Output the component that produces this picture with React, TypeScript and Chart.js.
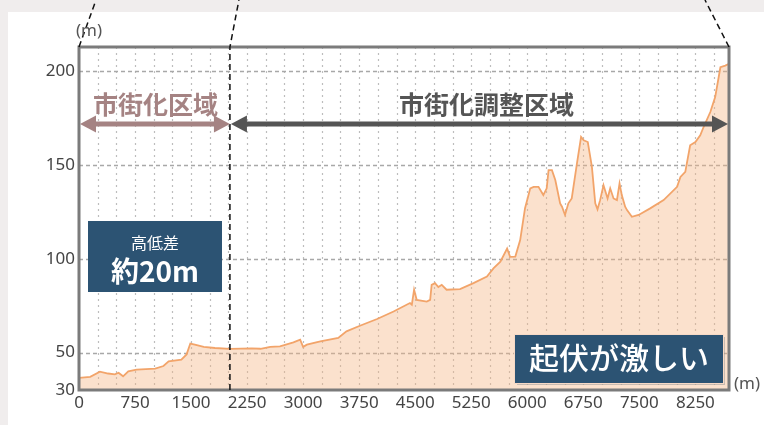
import React, { useEffect, useRef } from "react";
import { Chart, registerables } from "chart.js";

Chart.register(...registerables);

// distance along route (m)
const distance = [
  0, 150, 280, 390, 480, 530, 590, 660, 770, 1020, 1130, 1200, 1370, 1440, 1490, 1550, 1670, 1820,
  2020, 2310, 2430, 2560, 2690, 2870, 2960, 3000, 3050, 3230, 3470, 3580, 3760, 3990, 4210, 4430,
  4455, 4485, 4520, 4655, 4700, 4720, 4765, 4810, 4855, 4920, 5100, 5280, 5460, 5550, 5640, 5730,
  5770, 5840, 5905, 5970, 6040, 6085, 6150, 6215, 6260, 6285, 6330, 6375, 6440, 6465, 6505, 6550,
  6595, 6665, 6720, 6755, 6810, 6865, 6910, 6940, 6975, 7020, 7075, 7110, 7155, 7200, 7235, 7265,
  7310, 7335, 7400, 7490, 7645, 7825, 8005, 8050, 8115, 8180, 8250, 8315, 8360, 8450, 8515, 8585,
  8650, 8700,
];
// elevation (m)
const elevation = [
  36.5, 37, 39.8, 38.8, 38.3, 39.2, 37.3, 40, 40.9, 41.4, 42.8, 45.3, 46.2, 49, 54.8, 54.2, 53, 52.4,
  51.9, 52.2, 52, 53, 53.3, 55.4, 56.9, 53, 54.2, 56, 57.8, 61.3, 64.3, 67.9, 71.9, 76.4,
  75.5, 83.5, 78.1, 77.2, 78.1, 86.1, 87, 84.9, 86.1, 83.5, 83.8, 87, 90.5, 95, 98.5, 105.5,
  101, 101.2, 110, 127, 137.6, 138.4, 138.4, 134, 137.6, 147.3, 147.3, 142, 129.6, 127.8, 123.4, 129.6,
  132.2, 150.9, 165, 163.2, 162.3, 149, 129.6, 126.4, 131.3, 139.3, 132.2, 137.6, 132.2, 131.3, 140.2, 134,
  127.8, 126, 122.4, 123.4, 126.9, 131.3, 138.4, 143.7, 146.4, 160.6, 162.3, 165.9, 170.3, 178.3, 186.3, 202.2,
  203.1, 204,
];

const xMin = 0;
const xMax = 8700;
const xGridStep = 250;
const xLabelStep = 750;
const yMin = 30;
const yMax = 213;
const yTickValues = [30, 50, 100, 150, 200];
const zoneBoundary = 2020;

const zoneLeftLabel = "市街化区域";
const zoneRightLabel = "市街化調整区域";
const box1Title = "高低差";
const box1Value = "約20m";
const box2Text = "起伏が激しい";
const unitLabel = "(m)";

const JP = '"Noto Sans CJK JP", "Noto Sans", sans-serif';
const NUM = '"Noto Sans", "Open Sans", sans-serif';

function drawArrow(ctx: CanvasRenderingContext2D, x1: number, x2: number, y: number, color: string) {
  const hl = 16;
  const hh = 8.5;
  ctx.save();
  ctx.strokeStyle = color;
  ctx.fillStyle = color;
  ctx.lineWidth = 5;
  ctx.beginPath();
  ctx.moveTo(x1 + hl - 2, y);
  ctx.lineTo(x2 - hl + 2, y);
  ctx.stroke();
  ctx.beginPath();
  ctx.moveTo(x1, y);
  ctx.lineTo(x1 + hl, y - hh);
  ctx.lineTo(x1 + hl, y + hh);
  ctx.closePath();
  ctx.fill();
  ctx.beginPath();
  ctx.moveTo(x2, y);
  ctx.lineTo(x2 - hl, y - hh);
  ctx.lineTo(x2 - hl, y + hh);
  ctx.closePath();
  ctx.fill();
  ctx.restore();
}

export default function App() {
  const ref = useRef<HTMLCanvasElement | null>(null);

  useEffect(() => {
    if (!ref.current) return;

    const bgPlugin = {
      id: "bg",
      beforeDraw(chart: any) {
        const ctx = chart.ctx;
        ctx.save();
        ctx.fillStyle = "#f0eded";
        ctx.fillRect(0, 0, chart.width, chart.height);
        ctx.fillStyle = "#ffffff";
        ctx.fillRect(8, 12, chart.width - 8, chart.height - 12);
        ctx.restore();
      },
    };

    const gridPlugin = {
      id: "grid",
      beforeDatasetsDraw(chart: any) {
        const { ctx, chartArea: a, scales } = chart;
        const xs = scales.x;
        const ys = scales.y;
        ctx.save();
        ctx.strokeStyle = "#bdbdbd";
        ctx.lineWidth = 1.2;
        ctx.setLineDash([2, 4]);
        for (let v = xMin + xGridStep; v < xMax; v += xGridStep) {
          const px = Math.round(xs.getPixelForValue(v)) + 0.5;
          ctx.beginPath();
          ctx.moveTo(px, a.top);
          ctx.lineTo(px, a.bottom);
          ctx.stroke();
        }
        ctx.strokeStyle = "#a8a8a8";
        ctx.lineWidth = 1.3;
        ctx.setLineDash([4, 3]);
        yTickValues.forEach((v) => {
          if (v === yMin) return;
          const py = Math.round(ys.getPixelForValue(v)) + 0.5;
          ctx.beginPath();
          ctx.moveTo(a.left, py);
          ctx.lineTo(a.right, py);
          ctx.stroke();
        });
        ctx.restore();
      },
    };

    const annoPlugin = {
      id: "anno",
      afterDraw(chart: any) {
        const { ctx, chartArea: a, scales } = chart;
        const bx = scales.x.getPixelForValue(zoneBoundary);
        ctx.save();
        // plot border
        ctx.strokeStyle = "#7b7b7b";
        ctx.lineWidth = 3;
        ctx.setLineDash([]);
        ctx.strokeRect(a.left, a.top, a.right - a.left, a.bottom - a.top);

        // dashed guide lines
        ctx.strokeStyle = "#111";
        ctx.lineWidth = 1.5;
        ctx.setLineDash([6, 4]);
        ctx.beginPath();
        ctx.moveTo(bx, a.bottom);
        ctx.lineTo(bx, a.top);
        ctx.lineTo(bx + 9, 0);
        ctx.stroke();
        ctx.beginPath();
        ctx.moveTo(a.left, a.top);
        ctx.lineTo(a.left + 17, 0);
        ctx.stroke();
        ctx.beginPath();
        ctx.moveTo(a.right, a.top);
        ctx.lineTo(a.right - 24, 0);
        ctx.stroke();
        ctx.setLineDash([]);

        // unit labels
        ctx.fillStyle = "#555";
        ctx.font = `17px ${NUM}`;
        ctx.textAlign = "center";
        ctx.textBaseline = "middle";
        ctx.fillText(unitLabel, a.left + 10, 31);
        ctx.fillText(unitLabel, a.right + 18, a.bottom - 6);

        // zone arrows
        const ay = 124;
        drawArrow(ctx, a.left + 1, bx, ay, "#a58383");
        drawArrow(ctx, bx + 1, a.right - 1, ay, "#555555");
        ctx.font = `bold 25px ${JP}`;
        ctx.textAlign = "center";
        ctx.textBaseline = "middle";
        ctx.fillStyle = "#a58383";
        ctx.fillText(zoneLeftLabel, (a.left + bx) / 2 + 1, 104);
        ctx.fillStyle = "#555555";
        ctx.fillText(zoneRightLabel, (bx + a.right) / 2 + 7, 104);

        // box 1
        ctx.fillStyle = "#2c5373";
        ctx.fillRect(88, 221, 134, 71);
        ctx.fillStyle = "#ffffff";
        ctx.font = `16px ${JP}`;
        ctx.fillText(box1Title, 155, 243);
        ctx.font = `bold 28px ${JP}`;
        ctx.fillText(box1Value, 155, 271);

        // box 2
        ctx.fillStyle = "rgba(150,150,150,0.5)";
        ctx.fillRect(517, 337, 208, 48);
        ctx.fillStyle = "#f6d9c6";
        ctx.fillRect(514, 334, 210, 50);
        ctx.fillStyle = "#2c5373";
        ctx.fillRect(515, 335, 208, 48);
        ctx.fillStyle = "#ffffff";
        ctx.font = `500 30px ${JP}`;
        ctx.fillText(box2Text, 619, 358);
        ctx.restore();
      },
    };

    const chart = new Chart(ref.current, {
      type: "line",
      data: {
        datasets: [
          {
            data: distance.map((d, i) => ({ x: d, y: elevation[i] })),
            borderColor: "#f2a46a",
            borderWidth: 1.8,
            backgroundColor: "rgba(246,180,130,0.4)",
            fill: "start",
            pointRadius: 0,
            tension: 0,
          },
        ],
      },
      options: {
        animation: false,
        responsive: false,
        devicePixelRatio: 1,
        layout: { padding: { top: 47, right: 35, left: 0, bottom: 0 } },
        plugins: { legend: { display: false }, tooltip: { enabled: false } },
        scales: {
          x: {
            type: "linear",
            min: xMin,
            max: xMax,
            grid: { display: false, drawTicks: false },
            border: { display: false },
            afterFit(s: any) {
              s.height = 35;
            },
            afterBuildTicks(s: any) {
              const t = [];
              for (let v = xMin; v <= xMax - 400; v += xLabelStep) t.push({ value: v });
              s.ticks = t;
            },
            ticks: {
              autoSkip: false,
              maxRotation: 0,
              padding: 3,
              color: "#444",
              font: { family: NUM, size: 17 },
              callback: (v: any) => String(v),
            },
          },
          y: {
            type: "linear",
            min: yMin,
            max: yMax,
            grid: { display: false, drawTicks: false },
            border: { display: false },
            afterFit(s: any) {
              s.width = 79;
            },
            afterBuildTicks(s: any) {
              s.ticks = yTickValues.map((v) => ({ value: v }));
            },
            ticks: {
              autoSkip: false,
              padding: 4,
              color: "#444",
              font: { family: NUM, size: 17 },
              callback: (v: any) => String(v),
            },
          },
        },
      },
      plugins: [bgPlugin, gridPlugin, annoPlugin],
    });
    return () => chart.destroy();
  }, []);

  return (
    <div style={{ position: "fixed", left: 0, top: 0, width: 764, height: 425 }}>
      <canvas ref={ref} width={764} height={425} style={{ width: 764, height: 425, display: "block" }} />
    </div>
  );
}
